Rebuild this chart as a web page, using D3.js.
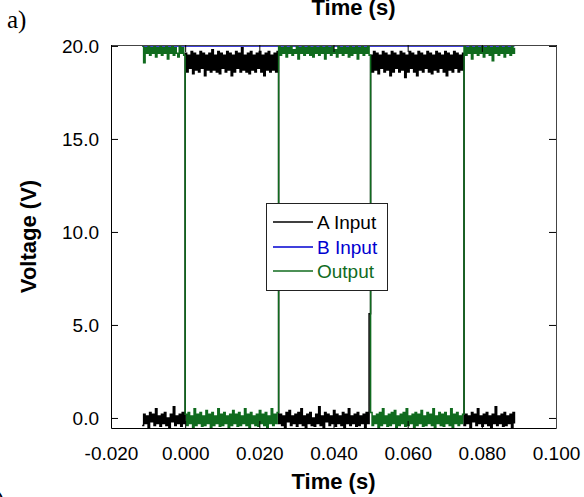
<!DOCTYPE html>
<html>
<head>
<meta charset="utf-8">
<script src="https://cdn.jsdelivr.net/npm/d3@7"></script>
<style>
  body { margin: 0; background: #fff; }
  svg { display: block; }
</style>
</head>
<body>
<div id="chart"></div>
<script>
// scope trace, sampled every 0.4 ms starting at -11.6 ms
const sampleStart = -0.0116;
const sampleStep = 0.0004;

// A input (V), one value per sample
const inputA = [
  -0.4, 0.2, -0.3, 0.1, -0.5, 0.3, -0.2, 0.2, -0.4, 0.5, -0.3, 0.1, -0.45, 0.2, -0.3, 0.3, -0.4, 0.0, -0.5, 0.2,
  -0.2, 0.6, -0.4, 0.1, -0.3, 0.2, -0.45, 0.3, -0.3,

  19.6, 18.6, 19.5, 18.8, 19.7, 18.5, 19.6, 18.7, 19.5, 18.6, 19.7, 18.8, 19.6, 18.4, 19.5, 18.7, 19.6, 18.6, 19.8, 18.7,
  19.5, 18.6, 19.7, 18.5, 19.6, 18.8, 19.5, 18.6, 19.7, 18.7, 19.6, 18.4, 19.5, 18.6, 19.7, 18.8, 19.6, 18.6, 19.9, 18.7,
  19.5, 18.6, 19.6, 18.5, 19.7, 18.7, 19.5, 18.6, 19.6, 18.8, 19.7, 18.6, 19.5, 18.4, 19.6, 18.7, 19.7, 18.6, 19.5, 18.7,
  19.6, 18.6, 19.7,

  -0.3, 0.2, -0.4, 0.1, -0.5, 0.3, -0.2, 0.4, -0.4, 0.1, -0.3, 0.2, -0.45, 0.3, -0.3, 0.5, -0.4, 0.1, -0.5, 0.2,
  -0.3, 0.3, -0.4, 0.0, -0.45, 0.2, -0.3, 0.6, -0.4, 0.1, -0.5, 0.3, -0.2, 0.2, -0.4, 0.1, -0.3, 0.4, -0.45, 0.2,
  -0.3, 0.1, -0.4, 0.3, -0.5, 0.2, -0.3, 0.5, -0.4, 0.1, -0.3, 0.2, -0.45, 0.3, -0.4, 0.1, -0.3, 0.2, -0.5, 0.3,
  -0.3, 5.6,

  19.5, 18.6, 19.7, 18.7, 19.6, 18.5, 19.5, 18.8, 19.7, 18.6, 19.6, 18.7, 19.5, 18.4, 19.7, 18.6, 19.6, 18.8, 19.5, 18.6,
  19.7, 18.7, 19.6, 18.3, 19.5, 18.6, 19.7, 18.8, 19.6, 18.6, 19.5, 18.4, 19.7, 18.7, 19.6, 18.6, 19.5, 18.8, 19.7, 18.6,
  19.6, 18.5, 19.5, 18.7, 19.7, 18.6, 19.6, 18.8, 19.5, 18.6, 19.7, 18.4, 19.6, 18.7, 19.5, 18.6, 19.7, 18.8, 19.6, 18.6,
  19.5, 18.7, 19.6,

  -0.4, 0.2, -0.3, 0.1, -0.5, 0.3, -0.2, 0.2, -0.4, 0.5, -0.3, 0.1, -0.45, 0.2, -0.3, 0.3, -0.4, 0.1, -0.5, 0.2,
  -0.3, 0.6, -0.4, 0.1, -0.3, 0.2, -0.45, 0.3, -0.4, 0.1, -0.3, 0.2, -0.5, 0.3, -0.3
];

// output (V), same samples
const output = [
  20.0, 19.1, 19.9, 19.6, 20.0, 19.5, 19.9, 19.6, 20.0, 19.4, 19.9, 19.6, 20.0, 19.5, 19.9, 19.6, 20.0, 19.3, 19.9, 19.6,
  20.0, 19.5, 19.9, 19.6, 19.4, 20.0, 19.6, 19.9, 19.5,

  0.2, -0.4, 0.3, -0.3, 0.1, -0.5, 0.5, -0.4, 0.2, -0.3, 0.3, -0.45, 0.1, -0.4, 0.4, -0.3, 0.2, -0.5, 0.3, -0.4,
  0.1, -0.3, 0.5, -0.45, 0.2, -0.4, 0.3, -0.3, 0.1, -0.5, 0.2, -0.4, 0.4, -0.3, 0.2, -0.45, 0.3, -0.4, 0.1, -0.3,
  0.5, -0.4, 0.2, -0.5, 0.3, -0.3, 0.1, -0.4, 0.2, -0.45, 0.4, -0.3, 0.2, -0.4, 0.3, -0.5, 0.1, -0.3, 0.5, -0.4,
  0.2, -0.3, 0.3,

  20.0, 19.5, 19.9, 19.6, 20.0, 19.4, 19.9, 19.6, 20.0, 19.5, 19.8, 19.6, 20.0, 19.3, 19.9, 19.6, 20.0, 19.5, 19.9, 19.6,
  20.0, 19.5, 19.9, 19.4, 20.0, 19.6, 19.9, 19.5, 20.0, 19.6, 19.9, 19.3, 20.0, 19.6, 19.9, 19.5, 20.0, 19.6, 19.8, 19.4,
  20.0, 19.6, 19.9, 19.5, 20.0, 19.6, 19.9, 19.4, 20.0, 19.5, 19.9, 19.6, 20.0, 19.3, 19.9, 19.6, 20.0, 19.5, 19.9, 19.6,
  20.0, 19.5,

  0.3, -0.4, 0.1, -0.3, 0.2, -0.5, 0.3, -0.4, 0.5, -0.3, 0.1, -0.45, 0.2, -0.4, 0.3, -0.3, 0.4, -0.5, 0.1, -0.4,
  0.2, -0.3, 0.3, -0.45, 0.5, -0.4, 0.1, -0.3, 0.2, -0.5, 0.3, -0.4, 0.2, -0.3, 0.4, -0.45, 0.1, -0.4, 0.3, -0.3,
  0.2, -0.4, 0.5, -0.5, 0.1, -0.3, 0.3, -0.4, 0.2, -0.45, 0.3, -0.3, 0.1, -0.4, 0.5, -0.5, 0.2, -0.3, 0.3, -0.4,
  0.1, -0.3, 0.2,

  20.0, 19.5, 19.9, 19.6, 20.0, 19.3, 19.9, 19.6, 20.0, 19.5, 19.9, 19.6, 20.0, 19.4, 19.9, 19.6, 20.0, 19.5, 19.9, 19.2,
  20.0, 19.6, 19.9, 19.5, 20.0, 19.6, 19.9, 19.4, 20.0, 19.6, 19.9, 19.5, 20.0, 19.6, 19.9
];

// B input is held at 20 V for the whole record
const inputBTimes = [-0.0116, 0.0888];
const inputBValues = [20.0, 20.0];

const xTicks = [-0.02, 0, 0.02, 0.04, 0.06, 0.08, 0.1];
const yTicks = [0, 5, 10, 15, 20];
const legendNames = ["A Input", "B Input", "Output"];

const colorA = "#000000";
const colorB = "#0000d0";
const colorOut = "#106b1e";
const legendColors = [colorA, colorB, colorOut];

const width = 584, height = 497;
const plot = { left: 111, right: 556, top: 45, bottom: 428 };

const svg = d3.select("#chart").append("svg")
  .attr("width", width)
  .attr("height", height)
  .style("font-family", "Arial, 'Liberation Sans', sans-serif");

const x = d3.scaleLinear().domain([-0.02, 0.10]).range([plot.left, plot.right]);
const y = d3.scaleLinear().domain([-0.54, 20.05]).range([plot.bottom, plot.top]);

svg.append("clipPath").attr("id", "plotClip")
  .append("rect")
  .attr("x", plot.left).attr("y", plot.top)
  .attr("width", plot.right - plot.left)
  .attr("height", plot.bottom - plot.top);

const traces = svg.append("g").attr("clip-path", "url(#plotClip)");

const stepLine = d3.line()
  .x((d, i) => x(sampleStart + i * sampleStep))
  .y(d => y(d))
  .curve(d3.curveStepAfter);

traces.append("path")
  .attr("d", stepLine(inputA))
  .attr("fill", "none")
  .attr("stroke", colorA)
  .attr("stroke-width", 1.5);

traces.append("path")
  .attr("d", d3.line()
    .x((d, i) => x(inputBTimes[i]))
    .y(d => y(d))(inputBValues))
  .attr("fill", "none")
  .attr("stroke", colorB)
  .attr("stroke-width", 1.5);

traces.append("path")
  .attr("d", stepLine(output))
  .attr("fill", "none")
  .attr("stroke", colorOut)
  .attr("stroke-width", 1.5);

// axes, ticks pointing inward on all four sides
const xAxis = svg.append("g")
  .attr("transform", `translate(0,${plot.bottom})`)
  .call(d3.axisBottom(x).tickValues(xTicks).tickSizeInner(-7).tickSizeOuter(0)
    .tickPadding(18.5).tickFormat(d => d.toFixed(3)));

const yAxis = svg.append("g")
  .attr("transform", `translate(${plot.left},0)`)
  .call(d3.axisLeft(y).tickValues(yTicks).tickSizeInner(-7).tickSizeOuter(0)
    .tickPadding(12).tickFormat(d => d.toFixed(1)));

const topAxis = svg.append("g")
  .attr("transform", `translate(0,${plot.top})`)
  .call(d3.axisTop(x).tickValues(xTicks).tickSizeInner(-7).tickSizeOuter(0).tickFormat(""));

const rightAxis = svg.append("g")
  .attr("transform", `translate(${plot.right},0)`)
  .call(d3.axisRight(y).tickValues(yTicks).tickSizeInner(-7).tickSizeOuter(0).tickFormat(""));

[xAxis, yAxis].forEach(g => {
  g.selectAll("text").style("font-size", "19px").attr("fill", "#000");
  g.selectAll("line, path").attr("stroke", "#000");
});
[topAxis, rightAxis].forEach(g => {
  g.select(".domain").attr("stroke", "#444");
  g.selectAll(".tick line").attr("stroke", "#000");
});

// axis titles
svg.append("text")
  .attr("x", 333.5).attr("y", 489)
  .attr("text-anchor", "middle")
  .style("font-size", "22px").style("font-weight", "bold")
  .text("Time (s)");

svg.append("text")
  .attr("transform", "translate(35.5,236.5) rotate(-90)")
  .attr("text-anchor", "middle")
  .style("font-size", "22px").style("font-weight", "bold")
  .text("Voltage (V)");

// bits of the neighbouring panels, cropped by the page edge as in the source
svg.append("text")
  .attr("x", 353.5).attr("y", 15)
  .attr("text-anchor", "middle")
  .style("font-size", "22px").style("font-weight", "bold")
  .text("Time (s)");

svg.append("text")
  .attr("x", 7).attr("y", 28)
  .style("font-family", "'Liberation Serif', 'Times New Roman', serif")
  .style("font-size", "25px")
  .text("a)");

svg.append("text")
  .attr("x", 4).attr("y", 508)
  .attr("text-anchor", "end")
  .style("font-family", "'Liberation Serif', 'Times New Roman', serif")
  .style("font-size", "25px")
  .text("b)");

// legend
const legend = svg.append("g");
legend.append("rect")
  .attr("x", 266.5).attr("y", 203.5)
  .attr("width", 121).attr("height", 87)
  .attr("fill", "#fff")
  .attr("stroke", "#222");

const rowY = [222, 247, 271];
legendNames.forEach((name, i) => {
  legend.append("line")
    .attr("x1", 273).attr("x2", 313)
    .attr("y1", rowY[i]).attr("y2", rowY[i])
    .attr("stroke", legendColors[i])
    .attr("stroke-width", 1.5);
  legend.append("text")
    .attr("x", 317).attr("y", rowY[i])
    .attr("dy", "0.35em")
    .attr("fill", legendColors[i])
    .style("font-size", "19px")
    .text(name);
});
</script>
</body>
</html>
